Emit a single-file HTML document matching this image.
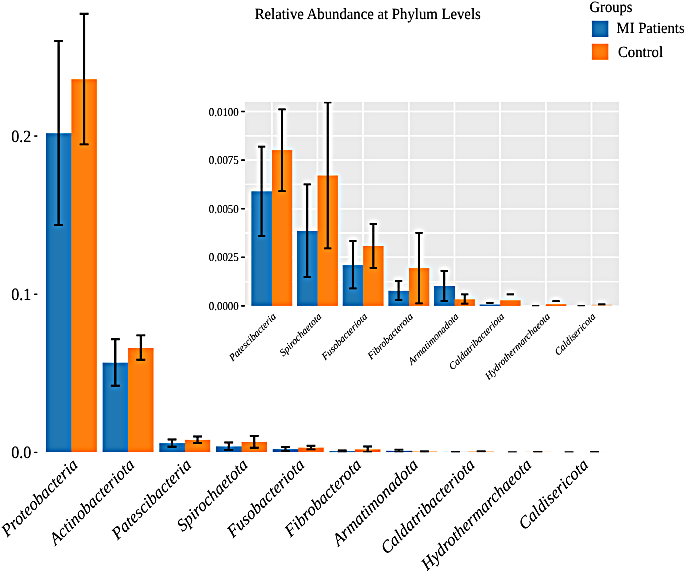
<!DOCTYPE html>
<html lang="en"><head><meta charset="utf-8"><title>Relative Abundance at Phylum Levels</title>
<style>
html,body{margin:0;padding:0;background:#fff;}
body{width:685px;height:573px;overflow:hidden;}
svg{display:block;}
text{font-family:"Liberation Serif","Times New Roman",serif;fill:#000;text-rendering:geometricPrecision;}
.it{font-style:italic;}
</style></head><body>
<svg width="685" height="573" viewBox="0 0 685 573">
<defs>
<filter id="usm" x="0" y="0" width="685" height="573" filterUnits="userSpaceOnUse" color-interpolation-filters="sRGB">
<feGaussianBlur in="SourceGraphic" stdDeviation="2.9" result="b"/>
<feComposite in="SourceGraphic" in2="b" operator="arithmetic" k1="0" k2="1.8" k3="-0.8" k4="0"/>
</filter>
</defs>
<g filter="url(#usm)">
<rect width="685" height="573" fill="#fff"/>

<rect x="244.8" y="101.8" width="374.10" height="203.60" fill="#ebebeb"/>
<path d="M244.8 281.60H618.9" stroke="#fff" stroke-width="1.3"/>
<path d="M244.8 233.00H618.9" stroke="#fff" stroke-width="1.3"/>
<path d="M244.8 184.40H618.9" stroke="#fff" stroke-width="1.3"/>
<path d="M244.8 135.80H618.9" stroke="#fff" stroke-width="1.3"/>
<path d="M241.20 305.90H244.8" stroke="#111" stroke-width="1.4"/>
<text transform="translate(238.70 310.05) scale(0.915 1)" font-size="11.9" text-anchor="end">0.0000</text>
<path d="M244.8 257.30H618.9" stroke="#fff" stroke-width="1.5"/>
<path d="M241.20 257.30H244.8" stroke="#111" stroke-width="1.4"/>
<text transform="translate(238.70 261.45) scale(0.915 1)" font-size="11.9" text-anchor="end">0.0025</text>
<path d="M244.8 208.70H618.9" stroke="#fff" stroke-width="1.5"/>
<path d="M241.20 208.70H244.8" stroke="#111" stroke-width="1.4"/>
<text transform="translate(238.70 212.85) scale(0.915 1)" font-size="11.9" text-anchor="end">0.0050</text>
<path d="M244.8 160.10H618.9" stroke="#fff" stroke-width="1.5"/>
<path d="M241.20 160.10H244.8" stroke="#111" stroke-width="1.4"/>
<text transform="translate(238.70 164.25) scale(0.915 1)" font-size="11.9" text-anchor="end">0.0075</text>
<path d="M244.8 111.50H618.9" stroke="#fff" stroke-width="1.5"/>
<path d="M241.20 111.50H244.8" stroke="#111" stroke-width="1.4"/>
<text transform="translate(238.70 115.65) scale(0.915 1)" font-size="11.9" text-anchor="end">0.0100</text>
<path d="M271.80 101.8V305.4" stroke="#fff" stroke-width="1.5"/>
<path d="M317.47 101.8V305.4" stroke="#fff" stroke-width="1.5"/>
<path d="M363.14 101.8V305.4" stroke="#fff" stroke-width="1.5"/>
<path d="M408.81 101.8V305.4" stroke="#fff" stroke-width="1.5"/>
<path d="M454.48 101.8V305.4" stroke="#fff" stroke-width="1.5"/>
<path d="M500.15 101.8V305.4" stroke="#fff" stroke-width="1.5"/>
<path d="M545.82 101.8V305.4" stroke="#fff" stroke-width="1.5"/>
<path d="M591.49 101.8V305.4" stroke="#fff" stroke-width="1.5"/>
<clipPath id="ip"><rect x="244.8" y="101.8" width="374.10" height="204.40"/></clipPath><g clip-path="url(#ip)">
<rect x="251.35" y="191.30" width="21.05" height="114.60" fill="#1f77b4"/>
<rect x="271.80" y="150.10" width="20.45" height="155.80" fill="#ff7f0e"/>
<rect x="297.02" y="230.90" width="21.05" height="75.00" fill="#1f77b4"/>
<rect x="317.47" y="175.50" width="20.45" height="130.40" fill="#ff7f0e"/>
<rect x="342.69" y="265.10" width="21.05" height="40.80" fill="#1f77b4"/>
<rect x="363.14" y="246.00" width="20.45" height="59.90" fill="#ff7f0e"/>
<rect x="388.36" y="290.80" width="21.05" height="15.10" fill="#1f77b4"/>
<rect x="408.81" y="268.10" width="20.45" height="37.80" fill="#ff7f0e"/>
<rect x="434.03" y="286.00" width="21.05" height="19.90" fill="#1f77b4"/>
<rect x="454.48" y="299.30" width="20.45" height="6.60" fill="#ff7f0e"/>
<rect x="479.70" y="304.60" width="21.05" height="1.30" fill="#1f77b4"/>
<rect x="500.15" y="300.30" width="20.45" height="5.60" fill="#ff7f0e"/>
<rect x="545.82" y="304.30" width="20.45" height="1.60" fill="#ff7f0e"/>
<rect x="591.49" y="304.50" width="20.45" height="1.40" fill="#ff7f0e" opacity="0.271"/>
<path d="M261.57 146.60V236.00" stroke="#000" stroke-width="1.9" fill="none"/>
<path d="M257.97 146.60h7.20M257.97 236.00h7.20" stroke="#000" stroke-width="1.70" fill="none"/>
<path d="M282.02 109.40V191.10" stroke="#000" stroke-width="1.9" fill="none"/>
<path d="M278.42 109.40h7.20M278.42 191.10h7.20" stroke="#000" stroke-width="1.70" fill="none"/>
<path d="M307.25 184.30V277.00" stroke="#000" stroke-width="1.9" fill="none"/>
<path d="M303.64 184.30h7.20M303.64 277.00h7.20" stroke="#000" stroke-width="1.70" fill="none"/>
<path d="M327.69 102.30V248.30" stroke="#000" stroke-width="1.9" fill="none"/>
<path d="M324.09 102.30h7.20M324.09 248.30h7.20" stroke="#000" stroke-width="1.70" fill="none"/>
<path d="M352.91 241.00V288.30" stroke="#000" stroke-width="1.9" fill="none"/>
<path d="M349.31 241.00h7.20M349.31 288.30h7.20" stroke="#000" stroke-width="1.70" fill="none"/>
<path d="M373.36 223.90V267.90" stroke="#000" stroke-width="1.9" fill="none"/>
<path d="M369.76 223.90h7.20M369.76 267.90h7.20" stroke="#000" stroke-width="1.70" fill="none"/>
<path d="M398.58 281.20V299.80" stroke="#000" stroke-width="1.9" fill="none"/>
<path d="M394.98 281.20h7.20M394.98 299.80h7.20" stroke="#000" stroke-width="1.70" fill="none"/>
<path d="M419.03 232.90V303.30" stroke="#000" stroke-width="1.9" fill="none"/>
<path d="M415.43 232.90h7.20M415.43 303.30h7.20" stroke="#000" stroke-width="1.70" fill="none"/>
<path d="M444.25 270.90V300.80" stroke="#000" stroke-width="1.9" fill="none"/>
<path d="M440.65 270.90h7.20M440.65 300.80h7.20" stroke="#000" stroke-width="1.70" fill="none"/>
<path d="M464.70 294.30V303.60" stroke="#000" stroke-width="1.9" fill="none"/>
<path d="M461.10 294.30h7.20M461.10 303.60h7.20" stroke="#000" stroke-width="1.70" fill="none"/>
<path d="M486.32 302.80h7.20" stroke="#000" stroke-width="1.70" fill="none"/>
<path d="M506.77 294.30h7.20" stroke="#000" stroke-width="1.70" fill="none"/>
<path d="M531.99 305.95h7.20" stroke="#000" stroke-width="1.70" fill="none"/>
<path d="M552.44 301.20h7.20" stroke="#000" stroke-width="1.70" fill="none"/>
<path d="M577.66 305.95h7.20" stroke="#000" stroke-width="1.70" fill="none"/>
<path d="M598.12 304.30h7.20" stroke="#000" stroke-width="1.70" fill="none"/>
</g>
<text class="it" font-size="9.95" text-anchor="end" transform="translate(276.40 317.30) rotate(-45.5) skewX(-5)">Patescibacteria</text>
<text class="it" font-size="9.95" text-anchor="end" transform="translate(322.07 317.30) rotate(-45.5) skewX(-5)">Spirochaetota</text>
<text class="it" font-size="9.95" text-anchor="end" transform="translate(367.74 317.30) rotate(-45.5) skewX(-5)">Fusobacteriota</text>
<text class="it" font-size="9.95" text-anchor="end" transform="translate(413.41 317.30) rotate(-45.5) skewX(-5)">Fibrobacterota</text>
<text class="it" font-size="9.95" text-anchor="end" transform="translate(459.08 317.30) rotate(-45.5) skewX(-5)">Armatimonadota</text>
<text class="it" font-size="9.95" text-anchor="end" transform="translate(504.75 317.30) rotate(-45.5) skewX(-5)">Caldatribacteriota</text>
<text class="it" font-size="9.95" text-anchor="end" transform="translate(550.42 317.30) rotate(-45.5) skewX(-5)">Hydrothermarchaeota</text>
<text class="it" font-size="9.95" text-anchor="end" transform="translate(596.09 317.30) rotate(-45.5) skewX(-5)">Caldisericota</text>
<clipPath id="mp"><rect x="0" y="0" width="685" height="452.35"/></clipPath><g clip-path="url(#mp)">
<rect x="45.85" y="133.20" width="26.10" height="319.25" fill="#1f77b4"/>
<rect x="71.35" y="79.20" width="25.50" height="373.25" fill="#ff7f0e"/>
<rect x="102.57" y="362.60" width="26.10" height="89.85" fill="#1f77b4"/>
<rect x="128.07" y="348.00" width="25.50" height="104.45" fill="#ff7f0e"/>
<rect x="159.29" y="443.12" width="26.10" height="9.33" fill="#1f77b4"/>
<rect x="184.79" y="439.77" width="25.50" height="12.68" fill="#ff7f0e"/>
<rect x="216.01" y="446.35" width="26.10" height="6.10" fill="#1f77b4"/>
<rect x="241.51" y="441.84" width="25.50" height="10.61" fill="#ff7f0e"/>
<rect x="272.73" y="449.13" width="26.10" height="3.32" fill="#1f77b4"/>
<rect x="298.23" y="447.58" width="25.50" height="4.87" fill="#ff7f0e"/>
<rect x="329.45" y="451.22" width="26.10" height="1.23" fill="#1f77b4"/>
<rect x="354.95" y="449.37" width="25.50" height="3.08" fill="#ff7f0e"/>
<rect x="386.17" y="450.83" width="26.10" height="1.62" fill="#1f77b4"/>
<rect x="411.67" y="451.05" width="25.50" height="1.40" fill="#ff7f0e" opacity="0.364"/>
<rect x="442.89" y="451.05" width="26.10" height="1.40" fill="#1f77b4" opacity="0.072"/>
<rect x="468.39" y="451.05" width="25.50" height="1.40" fill="#ff7f0e" opacity="0.309"/>
<rect x="525.11" y="451.05" width="25.50" height="1.40" fill="#ff7f0e" opacity="0.088"/>
<rect x="581.83" y="451.05" width="25.50" height="1.40" fill="#ff7f0e" opacity="0.022"/>
<path d="M58.60 41.00V224.90" stroke="#000" stroke-width="2.1" fill="none"/>
<path d="M54.20 41.00h8.80M54.20 224.90h8.80" stroke="#000" stroke-width="1.90" fill="none"/>
<path d="M84.10 13.80V144.40" stroke="#000" stroke-width="2.1" fill="none"/>
<path d="M79.70 13.80h8.80M79.70 144.40h8.80" stroke="#000" stroke-width="1.90" fill="none"/>
<path d="M115.32 339.20V385.70" stroke="#000" stroke-width="2.1" fill="none"/>
<path d="M110.92 339.20h8.80M110.92 385.70h8.80" stroke="#000" stroke-width="1.90" fill="none"/>
<path d="M140.82 335.40V359.80" stroke="#000" stroke-width="2.1" fill="none"/>
<path d="M136.42 335.40h8.80M136.42 359.80h8.80" stroke="#000" stroke-width="1.90" fill="none"/>
<path d="M172.04 439.49V446.76" stroke="#000" stroke-width="2.1" fill="none"/>
<path d="M167.64 439.49h8.80M167.64 446.76h8.80" stroke="#000" stroke-width="1.90" fill="none"/>
<path d="M197.54 436.46V443.11" stroke="#000" stroke-width="2.1" fill="none"/>
<path d="M193.14 436.46h8.80M193.14 443.11h8.80" stroke="#000" stroke-width="1.90" fill="none"/>
<path d="M228.76 442.55V450.10" stroke="#000" stroke-width="2.1" fill="none"/>
<path d="M224.36 442.55h8.80M224.36 450.10h8.80" stroke="#000" stroke-width="1.90" fill="none"/>
<path d="M254.26 435.88V447.76" stroke="#000" stroke-width="2.1" fill="none"/>
<path d="M249.86 435.88h8.80M249.86 447.76h8.80" stroke="#000" stroke-width="1.90" fill="none"/>
<path d="M285.48 447.17V451.02" stroke="#000" stroke-width="2.1" fill="none"/>
<path d="M281.08 447.17h8.80M281.08 451.02h8.80" stroke="#000" stroke-width="1.90" fill="none"/>
<path d="M310.98 445.78V449.36" stroke="#000" stroke-width="2.1" fill="none"/>
<path d="M306.58 445.78h8.80M306.58 449.36h8.80" stroke="#000" stroke-width="1.90" fill="none"/>
<path d="M342.20 450.44V451.95" stroke="#000" stroke-width="2.1" fill="none"/>
<path d="M337.80 450.44h8.80M337.80 451.95h8.80" stroke="#000" stroke-width="1.90" fill="none"/>
<path d="M367.70 446.51V452.24" stroke="#000" stroke-width="2.1" fill="none"/>
<path d="M363.30 446.51h8.80M363.30 452.24h8.80" stroke="#000" stroke-width="1.90" fill="none"/>
<path d="M398.92 449.60V452.03" stroke="#000" stroke-width="2.1" fill="none"/>
<path d="M394.52 449.60h8.80M394.52 452.03h8.80" stroke="#000" stroke-width="1.90" fill="none"/>
<path d="M424.42 451.51V452.26" stroke="#000" stroke-width="2.1" fill="none"/>
<path d="M420.02 451.51h8.80M420.02 452.26h8.80" stroke="#000" stroke-width="1.90" fill="none"/>
<path d="M451.24 452.20h8.80" stroke="#000" stroke-width="1.90" fill="none"/>
<path d="M476.74 451.51h8.80" stroke="#000" stroke-width="1.90" fill="none"/>
<path d="M507.96 452.45h8.80" stroke="#000" stroke-width="1.90" fill="none"/>
<path d="M533.46 452.07h8.80" stroke="#000" stroke-width="1.90" fill="none"/>
<path d="M564.68 452.45h8.80" stroke="#000" stroke-width="1.90" fill="none"/>
<path d="M590.18 452.32h8.80" stroke="#000" stroke-width="1.90" fill="none"/>
</g>
<path d="M34.2 452.45H37.3" stroke="#222" stroke-width="1.2"/>
<text transform="translate(31.3 458.40) scale(0.93 1)" font-size="17.2" text-anchor="end">0.0</text>
<path d="M34.2 294.25H37.3" stroke="#222" stroke-width="1.2"/>
<text transform="translate(31.3 300.20) scale(0.93 1)" font-size="17.2" text-anchor="end">0.1</text>
<path d="M34.2 136.05H37.3" stroke="#222" stroke-width="1.2"/>
<text transform="translate(31.3 142.00) scale(0.93 1)" font-size="17.2" text-anchor="end">0.2</text>
<text class="it" font-size="16.8" text-anchor="end" transform="translate(78.65 466.05) rotate(-45) skewX(-5)">Proteobacteria</text>
<text class="it" font-size="16.8" text-anchor="end" transform="translate(135.37 466.05) rotate(-45) skewX(-5)">Actinobacteriota</text>
<text class="it" font-size="16.8" text-anchor="end" transform="translate(192.09 466.05) rotate(-45) skewX(-5)">Patescibacteria</text>
<text class="it" font-size="16.8" text-anchor="end" transform="translate(248.81 466.05) rotate(-45) skewX(-5)">Spirochaetota</text>
<text class="it" font-size="16.8" text-anchor="end" transform="translate(305.53 466.05) rotate(-45) skewX(-5)">Fusobacteriota</text>
<text class="it" font-size="16.8" text-anchor="end" transform="translate(362.25 466.05) rotate(-45) skewX(-5)">Fibrobacterota</text>
<text class="it" font-size="16.8" text-anchor="end" transform="translate(418.97 466.05) rotate(-45) skewX(-5)">Armatimonadota</text>
<text class="it" font-size="16.8" text-anchor="end" transform="translate(475.69 466.05) rotate(-45) skewX(-5)">Caldatribacteriota</text>
<text class="it" font-size="16.8" text-anchor="end" transform="translate(532.41 466.05) rotate(-45) skewX(-5)">Hydrothermarchaeota</text>
<text class="it" font-size="16.8" text-anchor="end" transform="translate(589.13 466.05) rotate(-45) skewX(-5)">Caldisericota</text>
<text transform="translate(367.7 18.5) scale(0.94 1)" font-size="15.7" text-anchor="middle">Relative Abundance at Phylum Levels</text>
<text transform="translate(589.5 12.3) scale(0.93 1)" font-size="15.7">Groups</text>
<rect x="591.80" y="20.70" width="16.60" height="16.40" fill="#1f77b4"/>
<rect x="591.80" y="43.70" width="16.60" height="16.10" fill="#ff7f0e"/>
<text transform="translate(616.6 33.1) scale(0.94 1)" font-size="15.6">MI Patients</text>
<text transform="translate(618 56.9) scale(0.945 1)" font-size="15.6">Control</text>
</g></svg></body></html>
